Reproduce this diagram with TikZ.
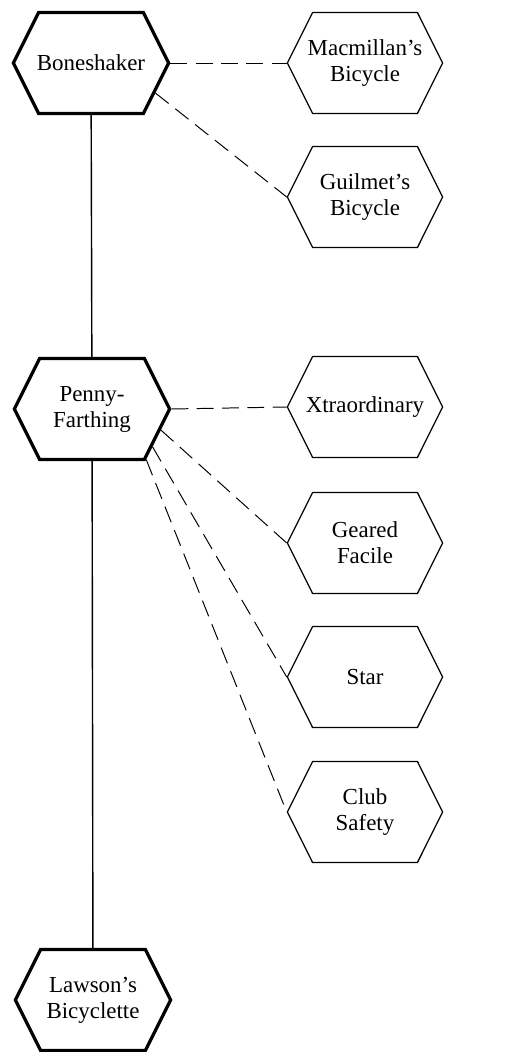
\documentclass[tikz,border=0pt]{standalone}
\usepackage{fontspec}
\setmainfont{Liberation Serif}
\usetikzlibrary{shapes.symbols}

\begin{document}
\begin{tikzpicture}[
    x=0.025cm, y=-0.025cm,
    every node/.style={font=\fontsize{16.3}{18.5}\selectfont},
    hexbox/.style={
        draw=black, signal, signal to=east and west, signal pointer angle=127,
        text width=3.1cm, inner xsep=-0.24cm, inner ysep=0pt,
        minimum width=3.875cm, minimum height=2.525cm,
        align=center, line width=#1
    },
    mainbox/.style={hexbox=2.3pt},
    sidebox/.style={hexbox=0.9pt},
    lineage/.style={line width=1pt},
    variant/.style={line width=0.7pt, dash pattern=on 12pt off 6pt}
]
\useasboundingbox (0,0) rectangle (521,1052);

% Main line of descent
\node[mainbox] (boneshaker) at (91,63) {Boneshaker};
\node[mainbox] (pennyfarthing) at (92,409) {Penny-\\Farthing};
\node[mainbox] (lawson) at (93,1000) {Lawson's\\Bicyclette};

% Side variants
\node[sidebox] (macmillan) at (365,63) {Macmillan's\\Bicycle};
\node[sidebox] (guilmet) at (365,197) {Guilmet's\\Bicycle};
\node[sidebox] (xtraordinary) at (365,407) {Xtraordinary};
\node[sidebox] (gearedfacile) at (365,543) {Geared\\Facile};
\node[sidebox] (star) at (365,677) {Star};
\node[sidebox] (clubsafety) at (365,812) {Club\\Safety};

% Solid links
\draw[lineage] (boneshaker) -- (pennyfarthing);
\draw[lineage] (pennyfarthing) -- (lawson);

% Dashed links
\draw[variant] (boneshaker.east) -- (macmillan.west);
\draw[variant] (boneshaker.-25) -- (guilmet.west);
\draw[variant] (pennyfarthing.east) -- (xtraordinary.west);
\draw[variant] (pennyfarthing.-17) -- (gearedfacile.west);
\draw[variant] (pennyfarthing.-32) -- (star.west);
\draw[variant] (pennyfarthing.-43) -- (clubsafety.west);

\end{tikzpicture}
\end{document}
